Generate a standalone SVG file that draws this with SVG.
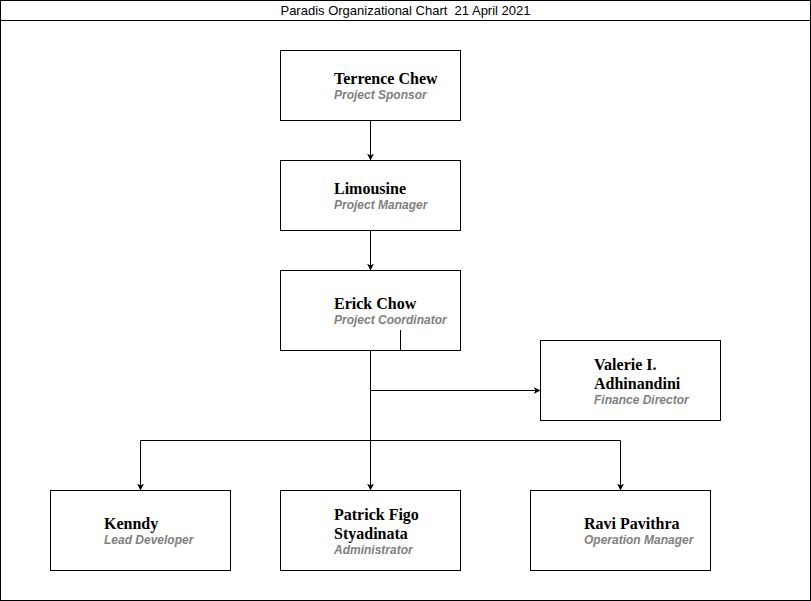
<svg xmlns="http://www.w3.org/2000/svg" width="811" height="601" viewBox="0 0 811 601">
  <style>
    .frame { fill: #ffffff; stroke: #000000; stroke-width: 1; }
    .box { fill: #ffffff; stroke: #000000; stroke-width: 1; }
    .name { font-family: "Liberation Serif", "Times New Roman", serif; font-size: 16px; font-weight: bold; fill: #000000; }
    .role { font-family: "Liberation Sans", Arial, sans-serif; font-size: 12px; font-weight: bold; font-style: italic; fill: #808080; }
    .title { font-family: "Liberation Sans", Arial, sans-serif; font-size: 13px; fill: #000000; }
    .edge { fill: none; stroke: #000000; stroke-width: 1; }
  </style>
  <defs>
    <marker id="arrow" viewBox="0 0 10 10" refX="10" refY="5" markerWidth="7" markerHeight="7" orient="auto" markerUnits="userSpaceOnUse">
      <path d="M0,0 L10,5 L0,10 L3,5 Z" fill="#000000"/>
    </marker>
  </defs>

  <!-- outer frame and title bar -->
  <g id="frame">
    <rect class="frame" x="0.5" y="0.5" width="810" height="600"/>
    <line x1="0.5" y1="20.5" x2="810.5" y2="20.5" stroke="#000000" stroke-width="1"/>
    <text class="title" x="405.5" y="15" text-anchor="middle" xml:space="preserve">Paradis Organizational Chart  21 April 2021</text>
  </g>

  <g id="terrence-chew">
    <rect class="box" x="280.5" y="50.5" width="180" height="70"/>
    <text class="name" x="334" y="84">Terrence Chew</text>
    <text class="role" x="334" y="99">Project Sponsor</text>
  </g>

  <g id="limousine">
    <rect class="box" x="280.5" y="160.5" width="180" height="70"/>
    <text class="name" x="334" y="194">Limousine</text>
    <text class="role" x="334" y="209">Project Manager</text>
  </g>

  <g id="erick-chow">
    <rect class="box" x="280.5" y="270.5" width="180" height="80"/>
    <text class="name" x="334" y="309">Erick Chow</text>
    <text class="role" x="334" y="324">Project Coordinator</text>
  </g>

  <g id="valerie">
    <rect class="box" x="540.5" y="340.5" width="180" height="80"/>
    <text class="name" x="594" y="370">Valerie I.</text>
    <text class="name" x="594" y="389">Adhinandini</text>
    <text class="role" x="594" y="404">Finance Director</text>
  </g>

  <g id="kenndy">
    <rect class="box" x="50.5" y="490.5" width="180" height="80"/>
    <text class="name" x="104" y="529">Kenndy</text>
    <text class="role" x="104" y="544">Lead Developer</text>
  </g>

  <g id="patrick">
    <rect class="box" x="280.5" y="490.5" width="180" height="80"/>
    <text class="name" x="334" y="520">Patrick Figo</text>
    <text class="name" x="334" y="539">Styadinata</text>
    <text class="role" x="334" y="554">Administrator</text>
  </g>

  <g id="ravi">
    <rect class="box" x="530.5" y="490.5" width="180" height="80"/>
    <text class="name" x="584" y="529">Ravi Pavithra</text>
    <text class="role" x="584" y="544">Operation Manager</text>
  </g>

  <!-- reporting lines, drawn above the boxes -->
  <g id="connectors">
    <line class="edge" x1="370.5" y1="120.5" x2="370.5" y2="160.5" marker-end="url(#arrow)"/>
    <line class="edge" x1="370.5" y1="230.5" x2="370.5" y2="270.5" marker-end="url(#arrow)"/>
    <line class="edge" x1="400.5" y1="330" x2="400.5" y2="350.5"/>
    <line class="edge" x1="370.5" y1="350.5" x2="370.5" y2="490.5" marker-end="url(#arrow)"/>
    <path class="edge" d="M370.5,390.5 H540.5" marker-end="url(#arrow)"/>
    <path class="edge" d="M370.5,440.5 H140.5 V490.5" marker-end="url(#arrow)"/>
    <path class="edge" d="M370.5,440.5 H620.5 V490.5" marker-end="url(#arrow)"/>
  </g>
</svg>
